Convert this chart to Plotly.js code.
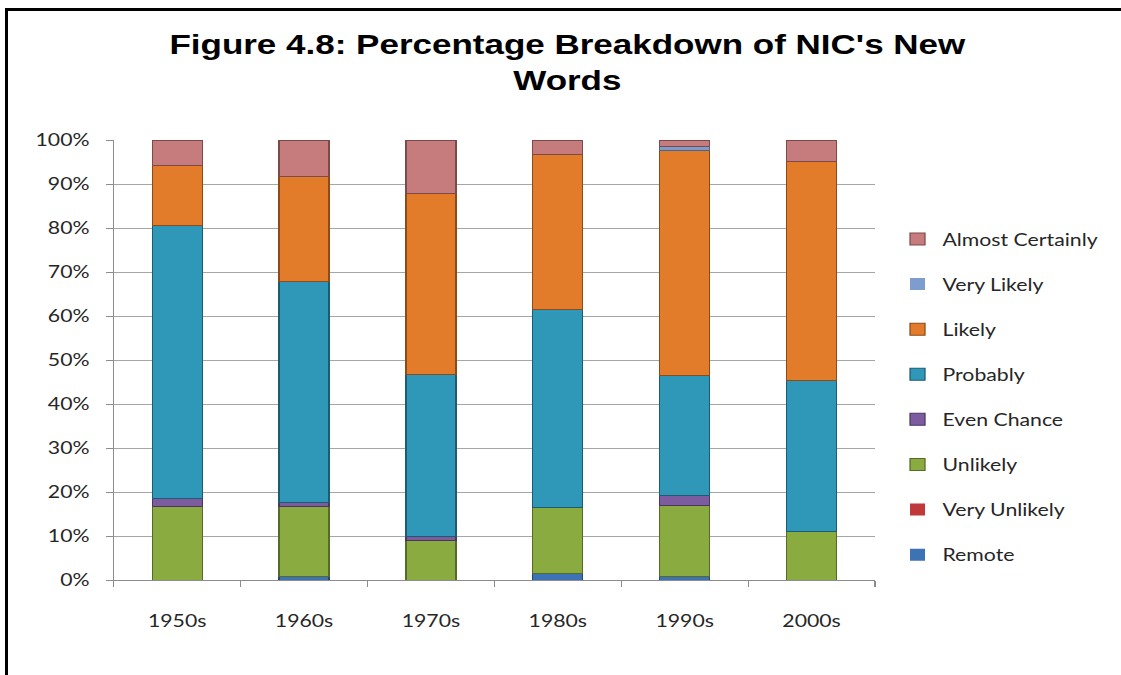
<!DOCTYPE html>
<html>
<head>
<meta charset="utf-8">
<script src="https://cdn.plot.ly/plotly-3.0.1.min.js"></script>
<style>
  html, body { margin:0; padding:0; background:#fff; overflow:hidden; width:1121px; height:675px; }
  #wrap { position:absolute; left:0; top:0; width:897px; height:675px; transform:scaleX(1.25); transform-origin:0 0; }
  #chart { width:897px; height:675px; }
  #frame { position:absolute; left:5px; top:8px; width:1130px; height:680px; border-top:3px solid #000; border-left:3px solid #000; pointer-events:none; }
</style>
</head>
<body>
<div id="wrap"><div id="chart"></div></div>
<div id="frame"></div>
<script>
const decades = ["1950s", "1960s", "1970s", "1980s", "1990s", "2000s"];

const remote          = [0.0, 0.9, 0.0, 1.5, 0.9, 0.0];
const veryUnlikely    = [0.0, 0.0, 0.0, 0.0, 0.0, 0.0];
const unlikely        = [16.7, 15.8, 8.9, 14.9, 16.1, 11.1];
const evenChance      = [1.9, 0.9, 1.1, 0.0, 2.3, 0.0];
const probably        = [61.9, 50.2, 36.7, 45.1, 27.1, 34.2];
const likely          = [13.6, 23.9, 41.2, 35.1, 51.3, 49.8];
const veryLikely      = [0.0, 0.0, 0.0, 0.0, 0.9, 0.0];
const almostCertainly = [5.9, 8.3, 12.1, 3.4, 1.4, 4.9];

const seriesNames = ["Remote", "Very Unlikely", "Unlikely", "Even Chance", "Probably", "Likely", "Very Likely", "Almost Certainly"];
const seriesValues = [remote, veryUnlikely, unlikely, evenChance, probably, likely, veryLikely, almostCertainly];
const seriesColors = ["#3d72b4", "#c0393a", "#8aab3f", "#7c5b9f", "#2f97b8", "#e27b2a", "#7d9dcf", "#c67c7c"];
const lineColors   = ["#24476f", "#7a2222", "#566b26", "#4b3662", "#1c5c70", "#8c4b18", "#4d6488", "#7d4a4a"];

const traces = seriesNames.map((name, i) => ({
  type: "bar",
  name: name,
  x: decades,
  y: seriesValues[i],
  legendgroup: "g" + i,
  legendrank: 100 - i,
  marker: { color: seriesColors[i], line: { color: lineColors[i], width: seriesValues[i].map(v => v > 0 ? 1 : 0) } },
  hoverinfo: "skip"
}));

const tickFont = { family: "Lato, 'Open Sans', sans-serif", size: 17, color: "#262626" };

const layout = {
  width: 897,
  height: 675,
  paper_bgcolor: "#ffffff",
  plot_bgcolor: "#ffffff",
  barmode: "stack",
  bargap: 0.606,
  margin: { l: 91, r: 197, t: 140, b: 95 },
  title: {
    text: "Figure 4.8: Percentage Breakdown of NIC's New<br>Words",
    font: { family: "'Liberation Sans', Arial, sans-serif", size: 28, color: "#000", weight: "bold" },
    x: 0.506, xanchor: "center",
    y: 0.920, yanchor: "top"
  },
  xaxis: {
    type: "category",
    showgrid: false,
    showline: true, linecolor: "#8c8c8c", linewidth: 1,
    ticks: "outside", tickson: "boundaries", ticklen: 6, tickcolor: "#8c8c8c",
    tickfont: tickFont,
    ticklabelstandoff: 26,
    fixedrange: true
  },
  yaxis: {
    range: [0, 100],
    dtick: 10,
    ticksuffix: "%",
    showgrid: true, gridcolor: "#a6a6a6", gridwidth: 1,
    showline: true, linecolor: "#8c8c8c", linewidth: 1,
    ticks: "outside", ticklen: 5, tickcolor: "#8c8c8c",
    tickfont: tickFont,
    ticklabelstandoff: 10,
    zeroline: false,
    fixedrange: true
  },
  legend: {
    traceorder: "grouped",
    tracegroupgap: 20,
    maxheight: 600,
    xref: "container", yref: "container",
    x: 0.796, xanchor: "left",
    y: 0.672, yanchor: "top",
    font: { family: "Lato, 'Open Sans', sans-serif", size: 17, color: "#262626" },
    bgcolor: "rgba(0,0,0,0)"
  },
  showlegend: true
};

Plotly.newPlot("chart", traces, layout, { staticPlot: true, displayModeBar: false });
</script>
</body>
</html>
